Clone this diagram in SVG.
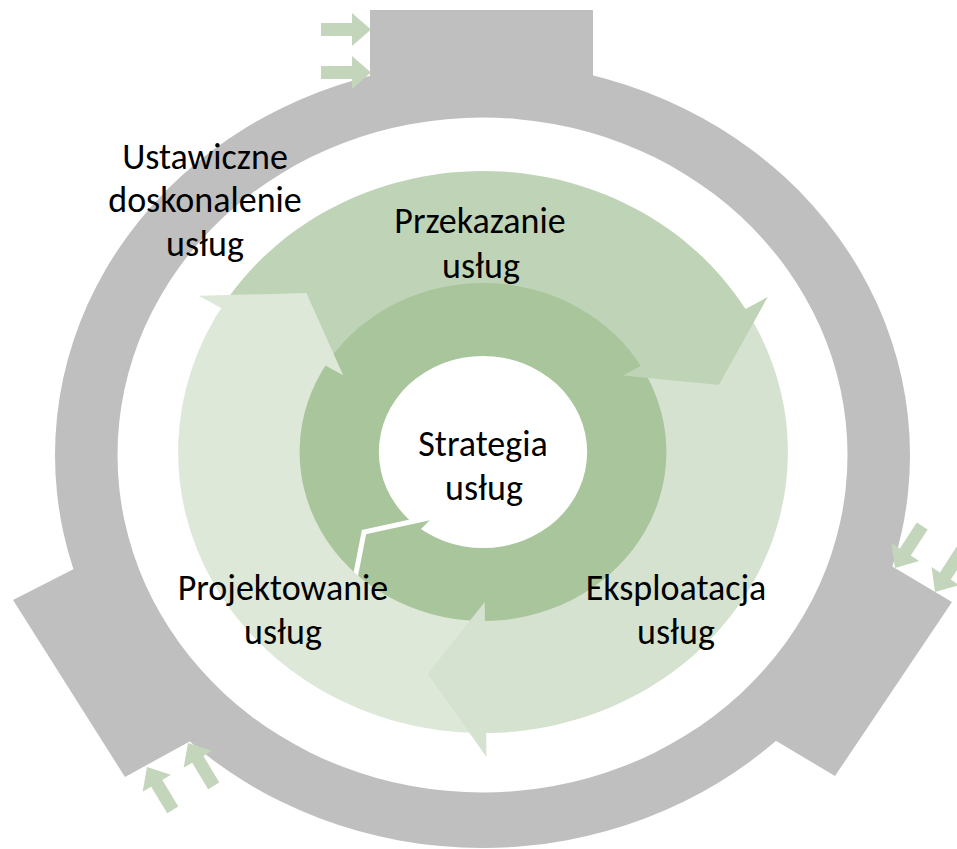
<svg xmlns="http://www.w3.org/2000/svg" width="957" height="849" viewBox="0 0 957 849">
  <style>
    .gray { fill: #bfbfbf; }
    .small { fill: #c3d6bc; }
    .dark { fill: #a9c59c; }
    .pr { fill: #bfd4b7; }
    .ek { fill: #d6e2d0; }
    .pj { fill: #dde8d9; }
    .lbl { font-family: Carlito, "Liberation Sans", Arial, sans-serif; font-size: 36px; fill: #000; text-anchor: middle; }
  </style>
  <defs>
    <polygon id="sa" points="-50,-6.5 -19,-6.5 -19,-16.5 0,0 -19,16.5 -19,6.5 -50,6.5"/>
  </defs>
  <rect width="957" height="849" fill="#ffffff"/>

  <g id="outer-ring">
    <path class="gray" fill-rule="evenodd" d="M 55,455 A 427.5 393 0 1 0 910,455 A 427.5 393 0 1 0 55,455 Z M 117.5,455 A 365 337.5 0 1 1 847.5,455 A 365 337.5 0 1 1 117.5,455 Z"/>
    <polygon class="gray" points="370,10 593,10 593,110 370,110"/>
    <polygon class="gray" points="952,602 835,776 740.5,719.7 857.5,545.7"/>
    <polygon class="gray" points="13,600 125,777 221.5,724 111,550"/>
  </g>

  <g id="inputs">
    <use href="#sa" class="small" transform="translate(371,29.5)"/>
    <use href="#sa" class="small" transform="translate(371,72.5)"/>
    <use href="#sa" class="small" transform="translate(895,568) rotate(123)"/>
    <use href="#sa" class="small" transform="translate(935,592) rotate(123)"/>
    <use href="#sa" class="small" transform="translate(147,767) rotate(239)"/>
    <use href="#sa" class="small" transform="translate(188,743) rotate(239)"/>
  </g>

  <g id="strategia-ring">
    <path class="dark" fill-rule="evenodd" transform="translate(483,452) scale(1.085,1)" d="M -170,0 A 170 170 0 1 0 170,0 A 170 170 0 1 0 -170,0 Z M -96,0 A 96 96 0 1 1 96,0 A 96 96 0 1 1 -96,0 Z"/>
    <polygon class="dark" points="433,517 364,532 351,599"/>
    <polyline points="433,517 364,532 351,599" fill="none" stroke="#ffffff" stroke-width="5" stroke-linejoin="miter"/>
  </g>

  <g id="cycle" transform="translate(483,452) scale(1.085,1)">
    <path id="body-przekazanie" class="pr" d="M -236.2,-152.2 A 281 281 0 0 1 245.5,-136.7 L 147.7,-82.2 A 169 169 0 0 0 -142.1,-91.5 Z"/>
    <path id="body-eksploatacja" class="ek" d="M 246.7,-134.5 A 281 281 0 0 1 -4.41,281.0 L -2.65,169.0 A 169 169 0 0 0 148.4,-80.9 Z"/>
    <path id="body-projektowanie" class="pj" d="M -6.86,280.9 A 281 281 0 0 1 -237.5,-150.2 L -142.9,-90.3 A 169 169 0 0 0 -4.13,168.9 Z"/>
    <path id="head-przekazanie" class="pr" d="M 262.5,-155.2 L 217.4,-66.9 L 129.1,-76.4 Z"/>
    <path id="head-eksploatacja" class="ek" d="M 3.19,305 L -50.8,221.8 L 1.57,150 Z"/>
    <path id="head-projektowanie" class="pj" d="M -262.0,-156.2 L -162.8,-158.9 L -128.9,-76.8 Z"/>
  </g>

  <g id="label-doskonalenie">
    <text class="lbl" x="205" y="169">Ustawiczne</text>
    <text class="lbl" x="205" y="212">doskonalenie</text>
    <text class="lbl" x="205" y="256">usług</text>
  </g>
  <g id="label-przekazanie">
    <text class="lbl" x="480" y="233">Przekazanie</text>
    <text class="lbl" x="481" y="278">usług</text>
  </g>
  <g id="label-strategia">
    <text class="lbl" x="483" y="456">Strategia</text>
    <text class="lbl" x="484" y="500">usług</text>
  </g>
  <g id="label-eksploatacja">
    <text class="lbl" x="676" y="600">Eksploatacja</text>
    <text class="lbl" x="676" y="644">usług</text>
  </g>
  <g id="label-projektowanie">
    <text class="lbl" x="283" y="600">Projektowanie</text>
    <text class="lbl" x="283" y="644">usług</text>
  </g>
</svg>
